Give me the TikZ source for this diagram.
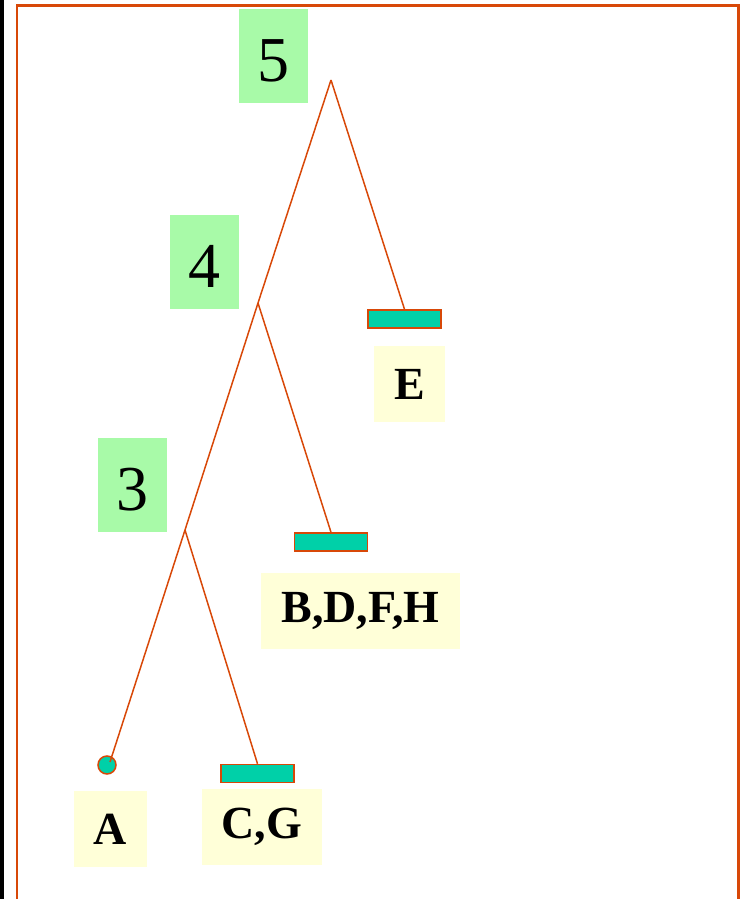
\documentclass[tikz,border=0pt]{standalone}
\usepackage{fontspec}
\setmainfont{Liberation Serif}
\usetikzlibrary{positioning, calc}
\definecolor{frameorange}{RGB}{216,72,8}
\definecolor{levelgreen}{RGB}{168,250,168}
\definecolor{leafyellow}{RGB}{255,255,216}
\definecolor{leafteal}{RGB}{0,208,168}

\begin{document}
\begin{tikzpicture}[
        x=1pt, y=-1pt,
        level/.style={fill=levelgreen, inner sep=0pt, minimum width=69pt, minimum height=94pt, text height=51pt, text depth=0pt, font=\fontsize{64}{64}\selectfont},
        leaf/.style={fill=leafyellow, inner xsep=20pt, inner ysep=0pt, minimum width=69pt, minimum height=76pt, font=\fontsize{46}{46}\selectfont\bfseries},
        bar/.style={draw=frameorange, fill=leafteal, line width=1.5pt, inner sep=0pt, minimum width=73pt, minimum height=18pt},
        branch/.style={draw=frameorange, line width=1.5pt}
    ]

    \useasboundingbox (0,0) rectangle (743,899);
    \fill[black] (0,0) rectangle (4,899);
    \draw[frameorange, line width=2.5pt] (17,920) -- (17,5.5) -- (738.5,5.5) -- (738.5,920);

    % level numbers
    \node[level] (l5) at (273.5,56) {5};
    \node[level] (l4) at (204,262) {4};
    \node[level] (l3) at (132.5,484.5) {3};

    % junctions
    \coordinate (root) at (331,80);
    \coordinate (j4) at (258,303);
    \coordinate (j3) at (185,530);

    % leaves
    \node[bar] (barE) at (404.5,319) {};
    \node[bar] (barBDFH) at (331,542) {};
    \node[bar] (barCG) at (257.5,773.5) {};
    \node[circle, draw=frameorange, fill=leafteal, line width=1.5pt, inner sep=0pt, minimum size=18pt] (dotA) at (107,765) {};

    \node[leaf] (E) at (409.5,384) {E};
    \node[leaf] (BDFH) at (360.5,611) {B,D,F,H};
    \node[leaf] (A) at (110.5,829) {A};
    \node[leaf] (CG) at (262,827) {C,G};

    \draw[branch] (root) -- (j4);
    \draw[branch] (root) -- (barE.north);
    \draw[branch] (j4) -- (j3);
    \draw[branch] (j4) -- (barBDFH.north);
    \draw[branch] (j3) -- ($(dotA.center)+(3,-3)$);
    \draw[branch] (j3) -- (barCG.north);

\end{tikzpicture}
\end{document}
